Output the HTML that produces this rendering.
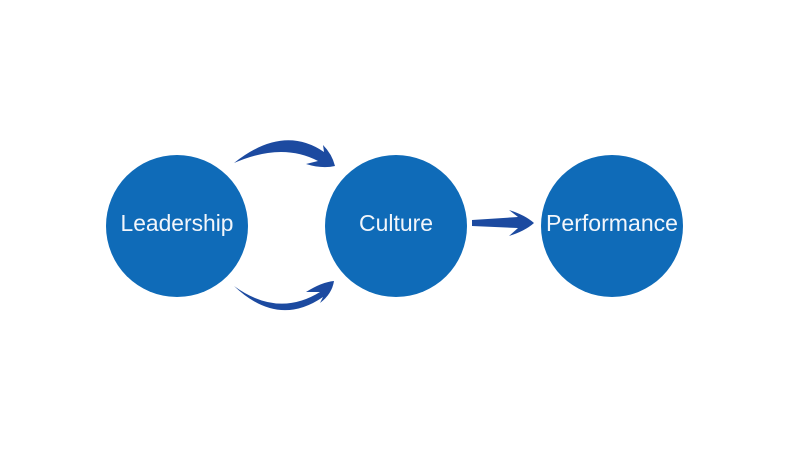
<!DOCTYPE html>
<html><head><style>html,body{margin:0;padding:0;background:#fff;}svg{display:block}</style></head>
<body>
<svg width="800" height="453" viewBox="0 0 800 453" xmlns="http://www.w3.org/2000/svg">
<rect width="800" height="453" fill="#fff"/>
<g fill="#0f6bb8">
<circle cx="177" cy="226" r="71"/>
<circle cx="396" cy="226" r="71"/>
<circle cx="612" cy="226" r="71"/>
</g>
<g fill="#f2f6fb" font-family="Liberation Sans, sans-serif" font-size="23">
<text x="177" y="231" text-anchor="middle" textLength="113" lengthAdjust="spacingAndGlyphs">Leadership</text>
<text x="396" y="231" text-anchor="middle" textLength="74" lengthAdjust="spacingAndGlyphs">Culture</text>
<text x="612" y="231" text-anchor="middle" textLength="132" lengthAdjust="spacingAndGlyphs">Performance</text>
</g>
<g fill="#1c4aa0">
<path d="M234 163 Q283 124 324 152 L323 145 Q332 154 335 166 Q322 169 306 164 L318 161 Q282 142 234 163 Z"/>
<path d="M234 286 Q278 318 320 292 L306 292 Q322 282 334 281 Q332 294 320 303 L323 297 Q278 328 234 286 Z"/>
<path d="M472 220 L518 217 L509 210 Q525 215 534 223 Q525 231 509 236 L518 228 L472 226 Z"/>
</g>
</svg>
</body></html>
